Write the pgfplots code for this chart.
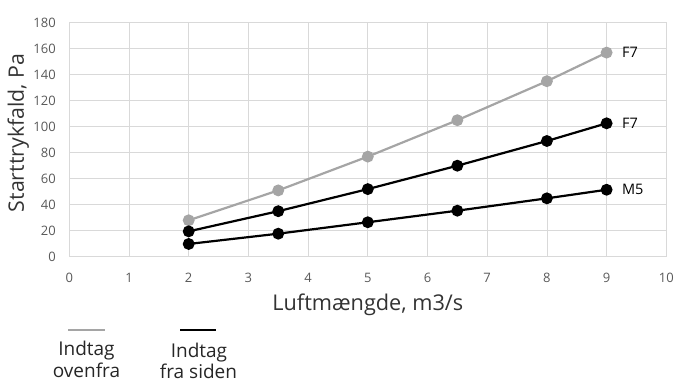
\documentclass[border=0pt]{standalone}
\usepackage{fontspec}
\setmainfont{Open Sans}
\usepackage{pgfplots}
\pgfplotsset{compat=1.18}
\definecolor{gridc}{HTML}{D9D9D9}
\definecolor{tickc}{HTML}{595959}
\definecolor{grayser}{HTML}{A5A5A5}
\begin{document}
\begin{tikzpicture}
\useasboundingbox (-69.3bp,-126.3bp) rectangle (605.7bp,256.7bp);
\begin{axis}[
  at={(0,0)}, anchor=south west,
  scale only axis, width=597bp, height=234bp,
  xmin=0, xmax=10, ymin=0, ymax=180,
  xtick={0,1,...,10}, ytick={0,20,...,180},
  grid=major, major grid style={gridc, line width=0.75bp},
  axis line style={gridc, line width=0.75bp},
  tick style={draw=none},
  /pgf/number format/assume math mode=true,
  ticklabel style={font=\fontsize{13bp}{15bp}\selectfont, text=tickc},
  xticklabel style={yshift=-13bp},
  yticklabel style={xshift=-10bp},
  clip=false,
]
\addplot[grayser, line width=2.2bp, mark=*, mark size=4.8bp, mark options={fill=grayser, draw=grayser}]
  coordinates {(2,28) (3.5,51) (5,77) (6.5,105) (8,135) (9,157)};
\addplot[black, line width=2.2bp, mark=*, mark size=4.8bp, mark options={fill=black}]
  coordinates {(2,19.5) (3.5,35) (5,52) (6.5,70) (8,89) (9,102.6)};
\addplot[black, line width=2.2bp, mark=*, mark size=4.8bp, mark options={fill=black}]
  coordinates {(2,9.8) (3.5,17.7) (5,26.5) (6.5,35.4) (8,44.9) (9,51.5)};
\node[anchor=west, font=\fontsize{14.5bp}{16bp}\selectfont] at (axis cs:9.2,157) {F7};
\node[anchor=west, font=\fontsize{14.5bp}{16bp}\selectfont] at (axis cs:9.2,102.6) {F7};
\node[anchor=west, font=\fontsize{14.5bp}{16bp}\selectfont] at (axis cs:9.2,51.5) {M5};
\end{axis}
\node[font=\fontsize{21.7bp}{24bp}\selectfont, text=black!80] at (298.5bp,-48.3bp) {Luftmængde, m3/s};
\node[font=\fontsize{21.3bp}{24bp}\selectfont, text=black!80, rotate=90] at (-51bp,123.7bp) {Starttrykfald, Pa};
\draw[grayser, line width=2.2bp] (-1bp,-73.3bp) -- (35.7bp,-73.3bp);
\draw[black, line width=2.2bp] (110.7bp,-73.3bp) -- (146.7bp,-73.3bp);
\node[anchor=base, font=\fontsize{19bp}{21bp}\selectfont, text=black!85] at (17.2bp,-98.5bp) {Indtag};
\node[anchor=base, font=\fontsize{19bp}{21bp}\selectfont, text=black!85] at (17.2bp,-120.3bp) {ovenfra};
\node[anchor=base, font=\fontsize{19bp}{21bp}\selectfont, text=black!85] at (129.7bp,-100.3bp) {Indtag};
\node[anchor=base, font=\fontsize{19bp}{21bp}\selectfont, text=black!85] at (129.2bp,-121.3bp) {fra siden};
\end{tikzpicture}
\end{document}
